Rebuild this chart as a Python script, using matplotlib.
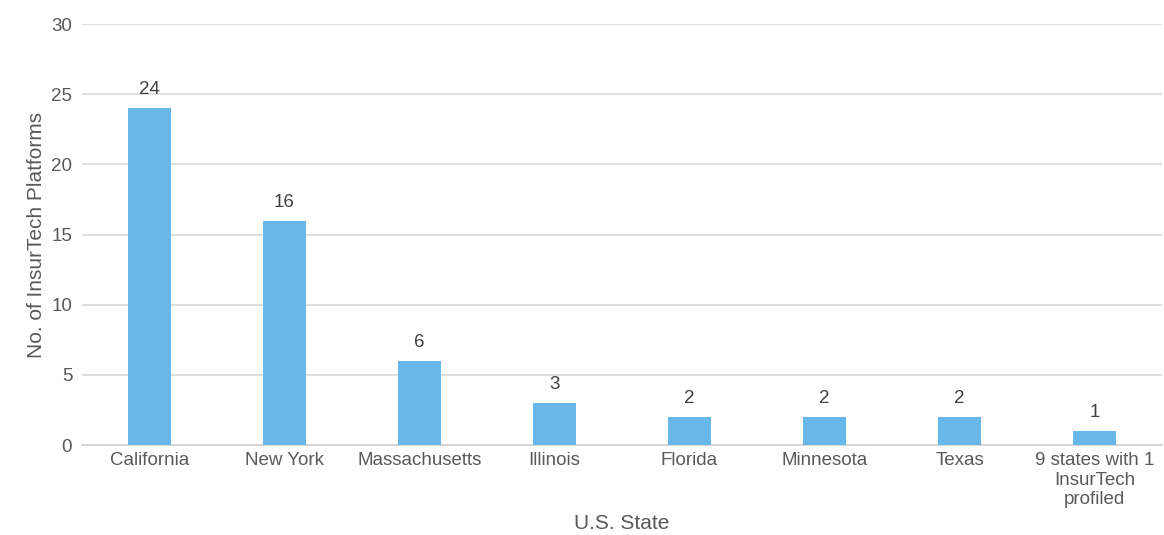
import matplotlib.pyplot as plt
import numpy as np

plt.rcParams['font.family'] = ['Liberation Sans', 'DejaVu Sans']

states = ['California', 'New York', 'Massachusetts', 'Illinois', 'Florida',
          'Minnesota', 'Texas', '9 states with 1\nInsurTech\nprofiled']
counts = [24, 16, 6, 3, 2, 2, 2, 1]
yticks = [0, 5, 10, 15, 20, 25, 30]

txt = '#595959'

fig = plt.figure(figsize=(11.64, 5.35), dpi=100)
ax = fig.add_axes([0.0704, 0.168, 0.928, 0.787])

x = np.arange(len(states))
bars = ax.bar(x, counts, width=0.32, color='#67B8E8', zorder=3)
for b, v in zip(bars, counts):
    ax.text(b.get_x() + b.get_width() / 2, v + 0.7, str(v), ha='center', va='bottom',
            fontsize=13.5, color='#404040')

ax.set_xlim(-0.5, len(states) - 0.5)
ax.set_ylim(0, 30)
ax.set_yticks(yticks)
ax.set_xticks(x)
ax.set_xticklabels(states, fontsize=13.5, color=txt, linespacing=1.2)
ax.tick_params(axis='y', labelsize=13.5, labelcolor=txt, length=0, pad=7)
ax.tick_params(axis='x', length=0, pad=5)
ax.yaxis.grid(True, color='#d9d9d9', linewidth=1.2, zorder=0)
for s in ['top', 'right', 'left']:
    ax.spines[s].set_visible(False)
ax.spines['bottom'].set_color('#d0d0d0')
ax.spines['bottom'].set_linewidth(1.2)

ax.set_xlabel('U.S. State', fontsize=15, color=txt, labelpad=4)
ax.set_ylabel('No. of InsurTech Platforms', fontsize=15, color=txt, labelpad=4)

fig.savefig('out.png', dpi=100)
